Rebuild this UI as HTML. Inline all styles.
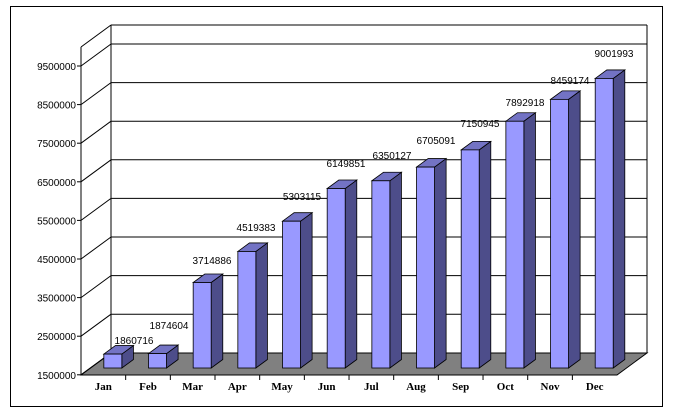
<!DOCTYPE html>
<html><head><meta charset="utf-8"><style>
html,body{margin:0;padding:0;background:#fff;}
svg{display:block}
</style></head><body>
<svg id="s" width="674" height="418" xmlns="http://www.w3.org/2000/svg"></svg>
<script>
var s=document.getElementById('s');
var h='';
h+='<rect x="10.5" y="6.5" width="652" height="400" fill="#fff" stroke="#000"/>';
h+='<polygon points="81,375 617,375 647,353 111,353" fill="#808080" stroke="#000"/>';
h+='<line x1="111" y1="25" x2="647" y2="25" stroke="#000"/>';
h+='<line x1="111" y1="25" x2="111" y2="353" stroke="#000"/>';
h+='<line x1="647" y1="25" x2="647" y2="353" stroke="#000"/>';
h+='<line x1="81" y1="47" x2="111" y2="25" stroke="#000"/>';
h+='<line x1="81" y1="47" x2="81" y2="375" stroke="#000"/>';
var u=38.6;
for(var k=0;k<=8;k++){
 var yb=352.8-k*u, yf=374.8-k*u;
 if(k>0) h+='<line x1="111" y1="'+yb+'" x2="647" y2="'+yb+'" stroke="#000"/>';
 h+='<line x1="81" y1="'+yf+'" x2="111" y2="'+yb+'" stroke="#000"/>';
 h+='<line x1="77" y1="'+yf+'" x2="81" y2="'+yf+'" stroke="#000"/>';
 h+='<text x="76" y="'+(yf+4)+'" text-anchor="end" font-family="Liberation Sans,sans-serif" font-size="10">'+(1500000+k*1000000)+'</text>';
}
var vals=[1860716,1874604,3714886,4519383,5303115,6149851,6350127,6705091,7150945,7892918,8459174,9001993];
var m=['Jan','Feb','Mar','Apr','May','Jun','Jul','Aug','Sep','Oct','Nov','Dec'];
var ly=[340,325,260,227,196,163,155,140,123,102,80,53];
var lx=[134,169,212,256,302,346,392,436,480,525,570,614];
var cw=44.67;
var t='';
for(var i=0;i<12;i++){
 var x=81+cw*i;
 if(i>0) h+='<line x1="'+x+'" y1="375" x2="'+x+'" y2="380" stroke="#000"/>';
 var cx=81+cw*(i+0.5);
 h+='<text x="'+cx+'" y="390" text-anchor="middle" font-family="Liberation Serif,serif" font-size="11" font-weight="bold">'+m[i]+'</text>';
 var hh=(vals[i]-1500000)/1e6*u;
 var x0=cx+9.5-9, x1=x0+18, yb=368, yt=368-hh, dx=11.6, dy=8.5;
 h+='<polygon points="'+x1+','+yb+' '+(x1+dx)+','+(yb-dy)+' '+(x1+dx)+','+(yt-dy)+' '+x1+','+yt+'" fill="#4d4d8a" stroke="#000" stroke-width="0.8"/>';
 h+='<polygon points="'+x0+','+yt+' '+x1+','+yt+' '+(x1+dx)+','+(yt-dy)+' '+(x0+dx)+','+(yt-dy)+'" fill="#7373c4" stroke="#000" stroke-width="0.8"/>';
 h+='<rect x="'+x0+'" y="'+yt+'" width="18" height="'+hh+'" fill="#9999ff" stroke="#000" stroke-width="0.8"/>';
 t+='<text x="'+lx[i]+'" y="'+(ly[i]+4)+'" text-anchor="middle" font-family="Liberation Sans,sans-serif" font-size="10">'+vals[i]+'</text>';
}
s.innerHTML=h+t;
</script>
</body></html>
